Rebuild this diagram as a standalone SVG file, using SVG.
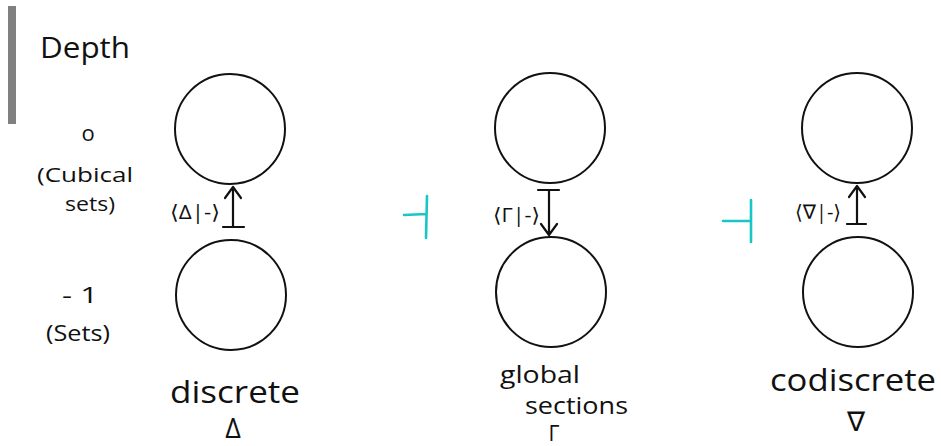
<svg xmlns="http://www.w3.org/2000/svg" width="941" height="446" viewBox="0 0 941 446">
<style>
.c{fill:none;stroke:#111;stroke-width:2}
.a{fill:none;stroke:#111;stroke-width:2.2;stroke-linecap:round;stroke-linejoin:round}
.t{font-family:"Open Sans","DejaVu Sans",sans-serif;fill:#111}
.cy{fill:none;stroke:#19c6c6;stroke-width:2.6;stroke-linecap:round}
</style>
<rect width="941" height="446" fill="#fff"/>
<rect x="8" y="6" width="8" height="118" fill="#808080"/>
<text class="t" x="40" y="58" font-size="29" textLength="90" lengthAdjust="spacingAndGlyphs">Depth</text>
<g id="labels-left">
<text class="t" x="88" y="141" font-size="22" text-anchor="middle">o</text>
<text class="t" x="37" y="182" font-size="20" textLength="96" lengthAdjust="spacingAndGlyphs">(Cubical</text>
<text class="t" x="65" y="211" font-size="20" textLength="50" lengthAdjust="spacingAndGlyphs">sets)</text>
<text class="t" x="62" y="303" font-size="22" textLength="36" lengthAdjust="spacingAndGlyphs">- 1</text>
<text class="t" x="46" y="341" font-size="22" textLength="64" lengthAdjust="spacingAndGlyphs">(Sets)</text>
</g>
<g id="cubical-left"><circle class="c" cx="230" cy="129" r="55"/></g>
<g id="sets-left"><circle class="c" cx="231" cy="295" r="55"/></g>
<g id="cubical-mid"><circle class="c" cx="550" cy="128" r="55"/></g>
<g id="sets-mid"><circle class="c" cx="551" cy="292" r="55"/></g>
<g id="cubical-right"><circle class="c" cx="857" cy="128" r="55"/></g>
<g id="sets-right"><circle class="c" cx="858" cy="292" r="55"/></g>
<g id="connectors">
<path class="a" d="M233 226 L233 188 M225 198 L233 187 L241 198 M223 227 L244 227"/>
<path class="a" d="M549 191 L549 234 M541 224 L549 235 L557 224 M538 190 L559 190"/>
<path class="a" d="M857 223 L857 187 M849 197 L857 186 L865 197 M847 224 L866 224"/>
<path class="cy" d="M427 196 L426 238 M404 215 L426 214"/>
<path class="cy" d="M751 200 L751 242 M723 221 L750 221"/>
</g>
<text class="t" x="170" y="219" font-size="20" textLength="50" lengthAdjust="spacingAndGlyphs">⟨Δ|-⟩</text>
<text class="t" x="493" y="222" font-size="20" textLength="47" lengthAdjust="spacingAndGlyphs">⟨Γ|-⟩</text>
<text class="t" x="795" y="219" font-size="20" textLength="46" lengthAdjust="spacingAndGlyphs">⟨∇|-⟩</text>
<text class="t" x="170" y="403" font-size="31" textLength="130" lengthAdjust="spacingAndGlyphs">discrete</text>
<text class="t" x="233" y="438" font-size="27" text-anchor="middle">Δ</text>
<text class="t" x="500" y="383" font-size="24" textLength="80" lengthAdjust="spacingAndGlyphs">global</text>
<text class="t" x="525" y="414" font-size="24" textLength="103" lengthAdjust="spacingAndGlyphs">sections</text>
<text class="t" x="554" y="441" font-size="21" text-anchor="middle">Γ</text>
<text class="t" x="770" y="391" font-size="31" textLength="166" lengthAdjust="spacingAndGlyphs">codiscrete</text>
<text class="t" x="856" y="431" font-size="27" text-anchor="middle">∇</text>
</svg>
